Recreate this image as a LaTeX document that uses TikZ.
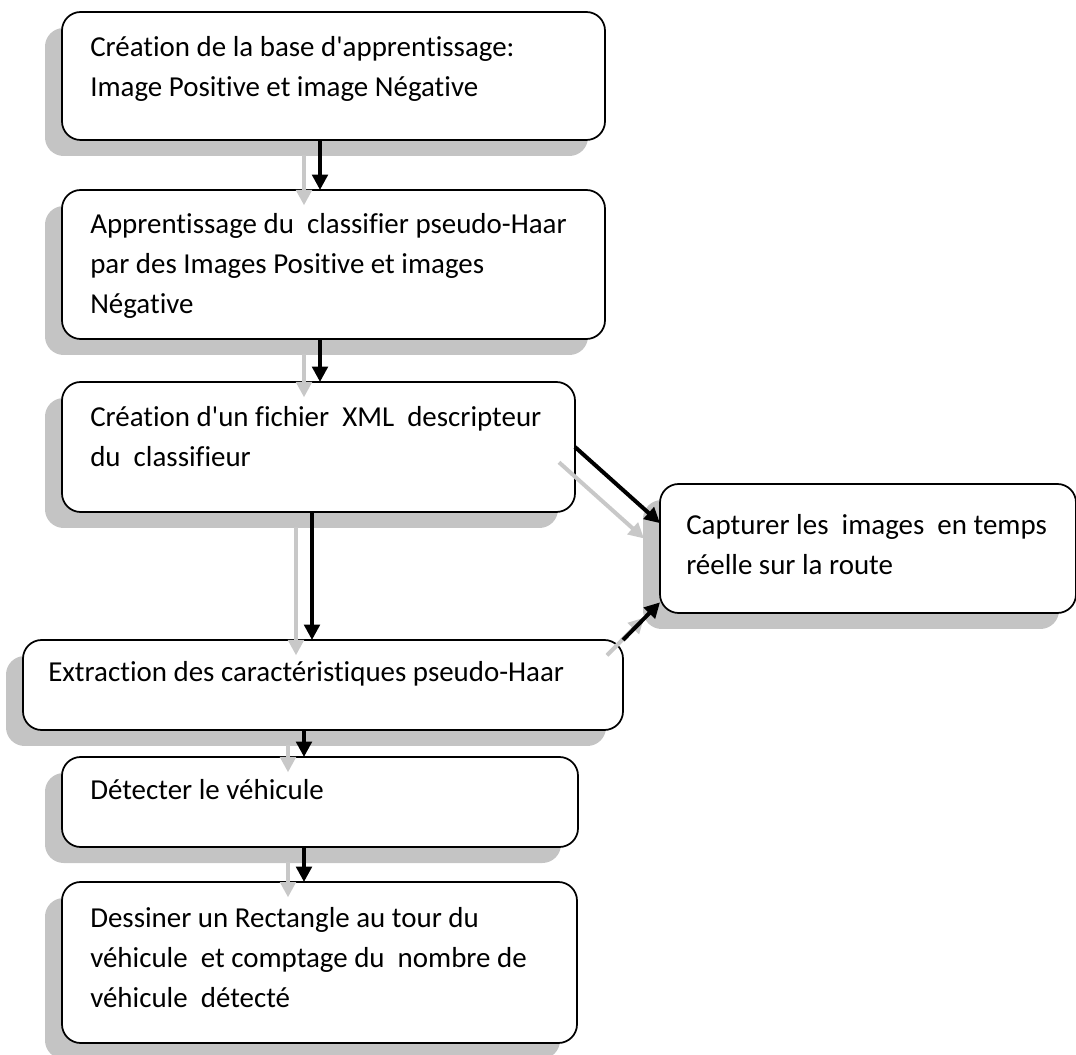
\documentclass[tikz,border=0pt]{standalone}
\usepackage{fontspec}
\setmainfont{Carlito}[Ligatures={TeXOff,CommonOff}]
\usetikzlibrary{arrows.meta,shadows}
\definecolor{shgray}{RGB}{196,196,196}
\definecolor{argray}{RGB}{200,200,200}

\begin{document}
\begin{tikzpicture}[x=0.75pt,y=-0.75pt,
  stepbox/.style={draw=black, line width=1.3pt, rounded corners=14pt, fill=white,
    inner sep=0pt, outer sep=0pt,
    drop shadow={shadow xshift=-12.75pt, shadow yshift=-12pt, fill=shgray, opacity=1}},
  lbl/.style={anchor=base west, inner sep=0pt, align=left,
    font=\fontsize{21.7}{30}\selectfont},
  blk/.style={line width=3pt, -{Triangle[width=11.5pt,length=11.5pt]}},
  ghost/.style={blk, draw=argray, transform canvas={shift={(-12pt,-11.5pt)}}}]

\useasboundingbox (0,0) rectangle (1076,1055);

% process boxes
\node[stepbox, minimum width=407.25pt, minimum height=96pt]     (b1) at (333.5,76)   {};
\node[stepbox, minimum width=407.25pt, minimum height=111.75pt] (b2) at (333.5,264.5) {};
\node[stepbox, minimum width=384.75pt, minimum height=97.5pt]   (b3) at (318.5,447)  {};
\node[stepbox, minimum width=450pt,    minimum height=67.5pt]   (b4) at (323,685)    {};
\node[stepbox, minimum width=312pt,    minimum height=96.75pt]  (b5) at (868,548.5)  {};
\node[stepbox, minimum width=387pt,    minimum height=67.5pt]   (b6) at (320,802)    {};
\node[stepbox, minimum width=386.25pt, minimum height=120.75pt] (b7) at (319.5,962.5) {};

% box texts (placed by the baseline of their last line)
\node[lbl] (t1) at (90,97)  {Création de la base d'apprentissage:\\Image Positive et image Négative};
\node[lbl] (t2) at (90,314) {Apprentissage du\ \ classifier pseudo-Haar\\par des Images Positive et images\\Négative};
\node[lbl] (t3) at (90,467) {Création d'un fichier\ \ XML\ \ descripteur\\du\ \ classifieur};
\node[lbl] (t4) at (48,682) {Extraction des caractéristiques pseudo-Haar};
\node[lbl] (t5) at (686,575) {Capturer les\ \ images\ \ en temps\\réelle sur la route};
\node[lbl] (t6) at (90,800) {Détecter le véhicule};
\node[lbl] (t7) at (90,1007) {Dessiner un Rectangle au tour du\\véhicule\ \ et comptage du\ \ nombre de\\véhicule\ \ détecté};

% columns of the vertical connectors
\coordinate (c1) at (320,0);
\coordinate (c2) at (312,0);
\coordinate (c3) at (304,0);
\coordinate (e1) at ([yshift=19pt]b5.west);
\coordinate (e2) at ([yshift=8pt]b5.south west);

% connector shadows
\draw[ghost] (b1.south -| c1) -- (b2.north -| c1);
\draw[ghost] (b2.south -| c1) -- (b3.north -| c1);
\draw[ghost] (b3.south -| c2) -- (b4.north -| c2);
\draw[ghost] (b4.south -| c3) -- (b6.north -| c3);
\draw[ghost] (b6.south -| c3) -- (b7.north -| c3);
\draw[ghost] (b3.east) -- (e1);
\draw[ghost] (b4.north east) -- (e2);

% connectors
\draw[blk] (b1.south -| c1) -- (b2.north -| c1);
\draw[blk] (b2.south -| c1) -- (b3.north -| c1);
\draw[blk] (b3.south -| c2) -- (b4.north -| c2);
\draw[blk] (b4.south -| c3) -- (b6.north -| c3);
\draw[blk] (b6.south -| c3) -- (b7.north -| c3);
\draw[blk] (b3.east) -- (e1);
\draw[blk] (b4.north east) -- (e2);
\end{tikzpicture}
\end{document}
